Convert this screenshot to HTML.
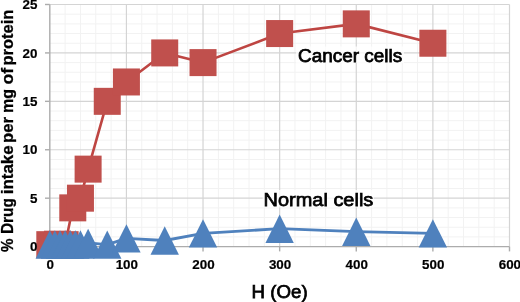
<!DOCTYPE html>
<html><head><meta charset="utf-8"><style>
html,body{margin:0;padding:0;background:#fff;width:520px;height:302px;overflow:hidden}
svg{display:block;will-change:transform;filter:blur(0.3px)}
</style></head><body>
<svg width="520" height="302" viewBox="0 0 520 302">
<rect width="520" height="302" fill="#fff"/>
<line x1="65.12" y1="4.50" x2="65.12" y2="246.60" stroke="#F2F2F2" stroke-width="1"/>
<line x1="80.45" y1="4.50" x2="80.45" y2="246.60" stroke="#F2F2F2" stroke-width="1"/>
<line x1="95.77" y1="4.50" x2="95.77" y2="246.60" stroke="#F2F2F2" stroke-width="1"/>
<line x1="111.09" y1="4.50" x2="111.09" y2="246.60" stroke="#F2F2F2" stroke-width="1"/>
<line x1="141.74" y1="4.50" x2="141.74" y2="246.60" stroke="#F2F2F2" stroke-width="1"/>
<line x1="157.06" y1="4.50" x2="157.06" y2="246.60" stroke="#F2F2F2" stroke-width="1"/>
<line x1="172.39" y1="4.50" x2="172.39" y2="246.60" stroke="#F2F2F2" stroke-width="1"/>
<line x1="187.71" y1="4.50" x2="187.71" y2="246.60" stroke="#F2F2F2" stroke-width="1"/>
<line x1="218.36" y1="4.50" x2="218.36" y2="246.60" stroke="#F2F2F2" stroke-width="1"/>
<line x1="233.68" y1="4.50" x2="233.68" y2="246.60" stroke="#F2F2F2" stroke-width="1"/>
<line x1="249.00" y1="4.50" x2="249.00" y2="246.60" stroke="#F2F2F2" stroke-width="1"/>
<line x1="264.33" y1="4.50" x2="264.33" y2="246.60" stroke="#F2F2F2" stroke-width="1"/>
<line x1="294.97" y1="4.50" x2="294.97" y2="246.60" stroke="#F2F2F2" stroke-width="1"/>
<line x1="310.30" y1="4.50" x2="310.30" y2="246.60" stroke="#F2F2F2" stroke-width="1"/>
<line x1="325.62" y1="4.50" x2="325.62" y2="246.60" stroke="#F2F2F2" stroke-width="1"/>
<line x1="340.94" y1="4.50" x2="340.94" y2="246.60" stroke="#F2F2F2" stroke-width="1"/>
<line x1="371.59" y1="4.50" x2="371.59" y2="246.60" stroke="#F2F2F2" stroke-width="1"/>
<line x1="386.91" y1="4.50" x2="386.91" y2="246.60" stroke="#F2F2F2" stroke-width="1"/>
<line x1="402.24" y1="4.50" x2="402.24" y2="246.60" stroke="#F2F2F2" stroke-width="1"/>
<line x1="417.56" y1="4.50" x2="417.56" y2="246.60" stroke="#F2F2F2" stroke-width="1"/>
<line x1="448.21" y1="4.50" x2="448.21" y2="246.60" stroke="#F2F2F2" stroke-width="1"/>
<line x1="463.53" y1="4.50" x2="463.53" y2="246.60" stroke="#F2F2F2" stroke-width="1"/>
<line x1="478.85" y1="4.50" x2="478.85" y2="246.60" stroke="#F2F2F2" stroke-width="1"/>
<line x1="494.18" y1="4.50" x2="494.18" y2="246.60" stroke="#F2F2F2" stroke-width="1"/>
<line x1="49.80" y1="236.92" x2="509.50" y2="236.92" stroke="#F2F2F2" stroke-width="1"/>
<line x1="49.80" y1="227.23" x2="509.50" y2="227.23" stroke="#F2F2F2" stroke-width="1"/>
<line x1="49.80" y1="217.55" x2="509.50" y2="217.55" stroke="#F2F2F2" stroke-width="1"/>
<line x1="49.80" y1="207.86" x2="509.50" y2="207.86" stroke="#F2F2F2" stroke-width="1"/>
<line x1="49.80" y1="188.50" x2="509.50" y2="188.50" stroke="#F2F2F2" stroke-width="1"/>
<line x1="49.80" y1="178.81" x2="509.50" y2="178.81" stroke="#F2F2F2" stroke-width="1"/>
<line x1="49.80" y1="169.13" x2="509.50" y2="169.13" stroke="#F2F2F2" stroke-width="1"/>
<line x1="49.80" y1="159.44" x2="509.50" y2="159.44" stroke="#F2F2F2" stroke-width="1"/>
<line x1="49.80" y1="140.08" x2="509.50" y2="140.08" stroke="#F2F2F2" stroke-width="1"/>
<line x1="49.80" y1="130.39" x2="509.50" y2="130.39" stroke="#F2F2F2" stroke-width="1"/>
<line x1="49.80" y1="120.71" x2="509.50" y2="120.71" stroke="#F2F2F2" stroke-width="1"/>
<line x1="49.80" y1="111.02" x2="509.50" y2="111.02" stroke="#F2F2F2" stroke-width="1"/>
<line x1="49.80" y1="91.66" x2="509.50" y2="91.66" stroke="#F2F2F2" stroke-width="1"/>
<line x1="49.80" y1="81.97" x2="509.50" y2="81.97" stroke="#F2F2F2" stroke-width="1"/>
<line x1="49.80" y1="72.29" x2="509.50" y2="72.29" stroke="#F2F2F2" stroke-width="1"/>
<line x1="49.80" y1="62.60" x2="509.50" y2="62.60" stroke="#F2F2F2" stroke-width="1"/>
<line x1="49.80" y1="43.24" x2="509.50" y2="43.24" stroke="#F2F2F2" stroke-width="1"/>
<line x1="49.80" y1="33.55" x2="509.50" y2="33.55" stroke="#F2F2F2" stroke-width="1"/>
<line x1="49.80" y1="23.87" x2="509.50" y2="23.87" stroke="#F2F2F2" stroke-width="1"/>
<line x1="49.80" y1="14.18" x2="509.50" y2="14.18" stroke="#F2F2F2" stroke-width="1"/>
<line x1="126.42" y1="4.50" x2="126.42" y2="246.60" stroke="#D4D4D4" stroke-width="1.2"/>
<line x1="203.03" y1="4.50" x2="203.03" y2="246.60" stroke="#D4D4D4" stroke-width="1.2"/>
<line x1="279.65" y1="4.50" x2="279.65" y2="246.60" stroke="#D4D4D4" stroke-width="1.2"/>
<line x1="356.27" y1="4.50" x2="356.27" y2="246.60" stroke="#D4D4D4" stroke-width="1.2"/>
<line x1="432.88" y1="4.50" x2="432.88" y2="246.60" stroke="#D4D4D4" stroke-width="1.2"/>
<line x1="509.50" y1="4.50" x2="509.50" y2="246.60" stroke="#D4D4D4" stroke-width="1.2"/>
<line x1="49.80" y1="198.18" x2="509.50" y2="198.18" stroke="#D4D4D4" stroke-width="1.2"/>
<line x1="49.80" y1="149.76" x2="509.50" y2="149.76" stroke="#D4D4D4" stroke-width="1.2"/>
<line x1="49.80" y1="101.34" x2="509.50" y2="101.34" stroke="#D4D4D4" stroke-width="1.2"/>
<line x1="49.80" y1="52.92" x2="509.50" y2="52.92" stroke="#D4D4D4" stroke-width="1.2"/>
<line x1="49.80" y1="4.50" x2="509.50" y2="4.50" stroke="#D4D4D4" stroke-width="1.2"/>
<line x1="49.80" y1="4.50" x2="49.80" y2="247.20" stroke="#ACACAC" stroke-width="1.4"/>
<line x1="49.20" y1="246.60" x2="509.50" y2="246.60" stroke="#ACACAC" stroke-width="1.4"/>
<line x1="45.00" y1="246.60" x2="49.80" y2="246.60" stroke="#ACACAC" stroke-width="1.4"/>
<line x1="45.00" y1="198.18" x2="49.80" y2="198.18" stroke="#ACACAC" stroke-width="1.4"/>
<line x1="45.00" y1="149.76" x2="49.80" y2="149.76" stroke="#ACACAC" stroke-width="1.4"/>
<line x1="45.00" y1="101.34" x2="49.80" y2="101.34" stroke="#ACACAC" stroke-width="1.4"/>
<line x1="45.00" y1="52.92" x2="49.80" y2="52.92" stroke="#ACACAC" stroke-width="1.4"/>
<line x1="45.00" y1="4.50" x2="49.80" y2="4.50" stroke="#ACACAC" stroke-width="1.4"/>
<line x1="49.80" y1="246.60" x2="49.80" y2="251.40" stroke="#ACACAC" stroke-width="1.4"/>
<line x1="126.42" y1="246.60" x2="126.42" y2="251.40" stroke="#ACACAC" stroke-width="1.4"/>
<line x1="203.03" y1="246.60" x2="203.03" y2="251.40" stroke="#ACACAC" stroke-width="1.4"/>
<line x1="279.65" y1="246.60" x2="279.65" y2="251.40" stroke="#ACACAC" stroke-width="1.4"/>
<line x1="356.27" y1="246.60" x2="356.27" y2="251.40" stroke="#ACACAC" stroke-width="1.4"/>
<line x1="432.88" y1="246.60" x2="432.88" y2="251.40" stroke="#ACACAC" stroke-width="1.4"/>
<line x1="509.50" y1="246.60" x2="509.50" y2="251.40" stroke="#ACACAC" stroke-width="1.4"/>
<polyline points="49.80,244.66 57.46,244.18 65.12,244.66 72.78,207.86 80.45,198.18 88.11,169.13 107.26,101.34 126.42,81.97 164.72,52.92 203.03,62.60 279.65,33.55 356.27,23.87 432.88,43.24" fill="none" stroke="#BE4542" stroke-width="2.6" stroke-linejoin="round"/>
<rect x="36.30" y="231.16" width="27.0" height="27.0" fill="#C0504D"/>
<rect x="43.96" y="230.68" width="27.0" height="27.0" fill="#C0504D"/>
<rect x="51.62" y="231.16" width="27.0" height="27.0" fill="#C0504D"/>
<rect x="59.28" y="194.36" width="27.0" height="27.0" fill="#C0504D"/>
<rect x="66.95" y="184.68" width="27.0" height="27.0" fill="#C0504D"/>
<rect x="74.61" y="155.63" width="27.0" height="27.0" fill="#C0504D"/>
<rect x="93.76" y="87.84" width="27.0" height="27.0" fill="#C0504D"/>
<rect x="112.92" y="68.47" width="27.0" height="27.0" fill="#C0504D"/>
<rect x="151.22" y="39.42" width="27.0" height="27.0" fill="#C0504D"/>
<rect x="189.53" y="49.10" width="27.0" height="27.0" fill="#C0504D"/>
<rect x="266.15" y="20.05" width="27.0" height="27.0" fill="#C0504D"/>
<rect x="342.77" y="10.37" width="27.0" height="27.0" fill="#C0504D"/>
<rect x="419.38" y="29.74" width="27.0" height="27.0" fill="#C0504D"/>
<polyline points="49.80,244.47 54.91,244.47 60.01,244.47 65.12,244.47 70.23,244.47 75.34,244.47 80.45,244.47 88.11,242.92 107.26,244.66 126.42,238.37 164.72,240.50 203.03,233.33 279.65,228.68 356.27,231.69 432.88,233.33" fill="none" stroke="#4F81BD" stroke-width="2.8" stroke-linejoin="round"/>
<polygon points="49.80,230.27 64.00,258.67 35.60,258.67" fill="#4F81BD"/>
<polygon points="54.91,230.27 69.11,258.67 40.71,258.67" fill="#4F81BD"/>
<polygon points="60.01,230.27 74.21,258.67 45.81,258.67" fill="#4F81BD"/>
<polygon points="65.12,230.27 79.32,258.67 50.92,258.67" fill="#4F81BD"/>
<polygon points="70.23,230.27 84.43,258.67 56.03,258.67" fill="#4F81BD"/>
<polygon points="75.34,230.27 89.54,258.67 61.14,258.67" fill="#4F81BD"/>
<polygon points="80.45,230.27 94.65,258.67 66.25,258.67" fill="#4F81BD"/>
<polygon points="88.11,228.72 102.31,257.12 73.91,257.12" fill="#4F81BD"/>
<polygon points="107.26,230.46 121.46,258.86 93.06,258.86" fill="#4F81BD"/>
<polygon points="126.42,224.17 140.62,252.57 112.22,252.57" fill="#4F81BD"/>
<polygon points="164.72,226.30 178.92,254.70 150.53,254.70" fill="#4F81BD"/>
<polygon points="203.03,219.13 217.23,247.53 188.83,247.53" fill="#4F81BD"/>
<polygon points="279.65,214.48 293.85,242.88 265.45,242.88" fill="#4F81BD"/>
<polygon points="356.27,217.49 370.47,245.89 342.07,245.89" fill="#4F81BD"/>
<polygon points="432.88,219.13 447.08,247.53 418.68,247.53" fill="#4F81BD"/>
<text x="37.4" y="251.20" text-anchor="end" font-family="Liberation Sans" font-weight="bold" font-size="13.4" fill="#000" stroke="#000" stroke-width="0.2">0</text>
<text x="37.4" y="202.78" text-anchor="end" font-family="Liberation Sans" font-weight="bold" font-size="13.4" fill="#000" stroke="#000" stroke-width="0.2">5</text>
<text x="37.4" y="154.36" text-anchor="end" font-family="Liberation Sans" font-weight="bold" font-size="13.4" fill="#000" stroke="#000" stroke-width="0.2">10</text>
<text x="37.4" y="105.94" text-anchor="end" font-family="Liberation Sans" font-weight="bold" font-size="13.4" fill="#000" stroke="#000" stroke-width="0.2">15</text>
<text x="37.4" y="57.52" text-anchor="end" font-family="Liberation Sans" font-weight="bold" font-size="13.4" fill="#000" stroke="#000" stroke-width="0.2">20</text>
<text x="37.4" y="9.10" text-anchor="end" font-family="Liberation Sans" font-weight="bold" font-size="13.4" fill="#000" stroke="#000" stroke-width="0.2">25</text>
<text x="50.20" y="268.8" text-anchor="middle" font-family="Liberation Sans" font-weight="bold" font-size="13.4" fill="#000" stroke="#000" stroke-width="0.2">0</text>
<text x="126.82" y="268.8" text-anchor="middle" font-family="Liberation Sans" font-weight="bold" font-size="13.4" fill="#000" stroke="#000" stroke-width="0.2">100</text>
<text x="203.43" y="268.8" text-anchor="middle" font-family="Liberation Sans" font-weight="bold" font-size="13.4" fill="#000" stroke="#000" stroke-width="0.2">200</text>
<text x="280.05" y="268.8" text-anchor="middle" font-family="Liberation Sans" font-weight="bold" font-size="13.4" fill="#000" stroke="#000" stroke-width="0.2">300</text>
<text x="356.67" y="268.8" text-anchor="middle" font-family="Liberation Sans" font-weight="bold" font-size="13.4" fill="#000" stroke="#000" stroke-width="0.2">400</text>
<text x="433.28" y="268.8" text-anchor="middle" font-family="Liberation Sans" font-weight="bold" font-size="13.4" fill="#000" stroke="#000" stroke-width="0.2">500</text>
<text x="509.90" y="268.8" text-anchor="middle" font-family="Liberation Sans" font-weight="bold" font-size="13.4" fill="#000" stroke="#000" stroke-width="0.2">600</text>
<rect x="296" y="46.5" width="108" height="16.5" fill="#fff" fill-opacity="0.75"/>
<rect x="262.6" y="190" width="111.4" height="17.5" fill="#fff" fill-opacity="0.75"/>
<text x="251.6" y="297.5" font-size="18.6" textLength="56" font-family="Liberation Sans" fill="#000" stroke="#000" stroke-width="0.75" lengthAdjust="spacingAndGlyphs">H (Oe)</text>
<text x="298" y="61.8" font-size="18.8" textLength="104.2" font-family="Liberation Sans" fill="#000" stroke="#000" stroke-width="0.75" lengthAdjust="spacingAndGlyphs">Cancer cells</text>
<text x="263.6" y="206.3" font-size="18.8" textLength="109.7" font-family="Liberation Sans" fill="#000" stroke="#000" stroke-width="0.75" lengthAdjust="spacingAndGlyphs">Normal cells</text>
<text transform="translate(12.8,252.00) rotate(-90)" x="0" y="0" textLength="13.40" font-family="Liberation Sans" font-weight="bold" font-size="15.8" fill="#000" stroke="#000" stroke-width="0.3" lengthAdjust="spacingAndGlyphs">%</text>
<text transform="translate(12.8,234.10) rotate(-90)" x="0" y="0" textLength="36.10" font-family="Liberation Sans" font-weight="bold" font-size="15.8" fill="#000" stroke="#000" stroke-width="0.3" lengthAdjust="spacingAndGlyphs">Drug</text>
<text transform="translate(12.8,194.20) rotate(-90)" x="0" y="0" textLength="48.70" font-family="Liberation Sans" font-weight="bold" font-size="15.8" fill="#000" stroke="#000" stroke-width="0.3" lengthAdjust="spacingAndGlyphs">intake</text>
<text transform="translate(12.8,143.00) rotate(-90)" x="0" y="0" textLength="25.90" font-family="Liberation Sans" font-weight="bold" font-size="15.8" fill="#000" stroke="#000" stroke-width="0.3" lengthAdjust="spacingAndGlyphs">per</text>
<text transform="translate(12.8,113.10) rotate(-90)" x="0" y="0" textLength="24.10" font-family="Liberation Sans" font-weight="bold" font-size="15.8" fill="#000" stroke="#000" stroke-width="0.3" lengthAdjust="spacingAndGlyphs">mg</text>
<text transform="translate(12.8,84.60) rotate(-90)" x="0" y="0" textLength="16.70" font-family="Liberation Sans" font-weight="bold" font-size="15.8" fill="#000" stroke="#000" stroke-width="0.3" lengthAdjust="spacingAndGlyphs">of</text>
<text transform="translate(12.8,65.60) rotate(-90)" x="0" y="0" textLength="55.90" font-family="Liberation Sans" font-weight="bold" font-size="15.8" fill="#000" stroke="#000" stroke-width="0.3" lengthAdjust="spacingAndGlyphs">protein</text>
</svg>
</body></html>
